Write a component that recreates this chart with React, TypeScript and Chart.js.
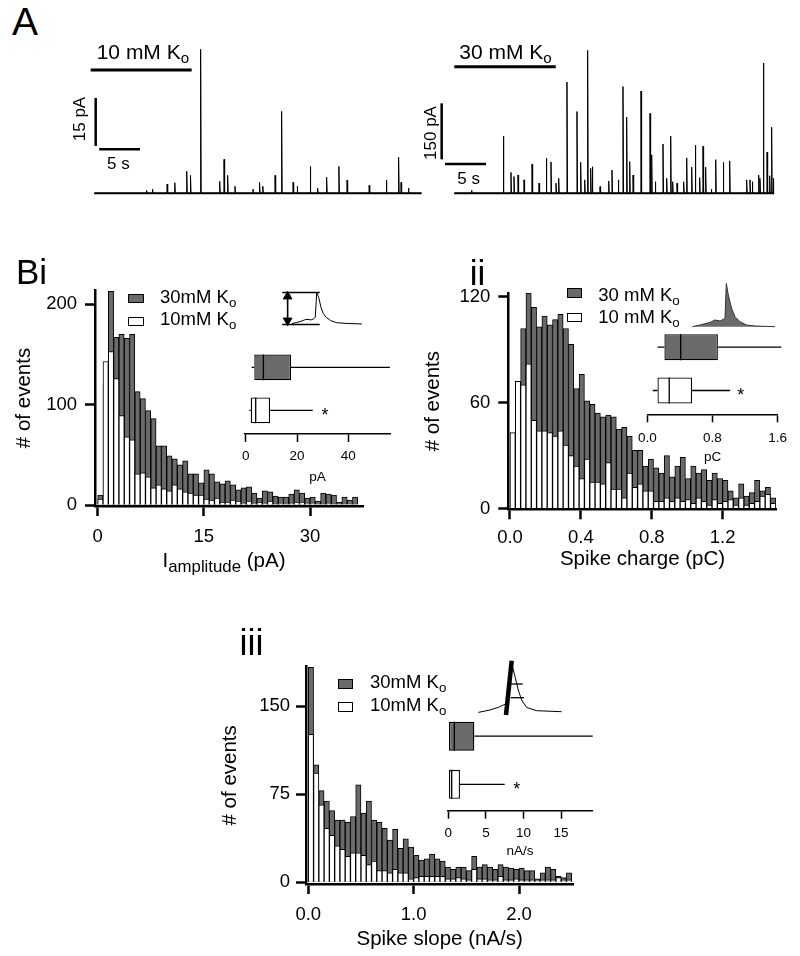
import React, { useEffect, useRef } from 'react';
import { Chart, registerables } from 'chart.js';
Chart.register(...registerables);

const FONT = "'Liberation Sans', Arial, Helvetica, sans-serif";
const GRAY = '#6a6a6a';
Chart.defaults.font.family = FONT;
Chart.defaults.color = '#000';

// ---------------- Panel A: spike trains (time s, amplitude pA) ----------------
const spk10T = [6.39, 7.12, 8.9, 9.84, 11.3, 11.76, 13.0, 15.33, 15.86, 16.3, 17.2, 19.4, 20.2, 20.6, 22.1, 22.9, 24.3, 24.8, 26.4, 27.3, 28.4, 29.9, 30.9, 33.6, 35.7, 37.2, 37.5, 38.4];
const spk10A = [0.9, 1.3, 2.9, 3.3, 6.9, 5.6, 45, 3.75, 10.6, 5.6, 2.2, 1.3, 3.4, 2.2, 5.6, 25.6, 3.4, 2.2, 8.4, 1.6, 5.0, 8.4, 4.1, 2.5, 4.1, 11.25, 3.4, 1.6];
const trace10End = 40.0;
const spk30T = [2.12, 5.98, 6.91, 7.28, 7.77, 8.5, 9.48, 10.33, 11.22, 11.79, 12.4, 12.73, 13.74, 14.96, 15.41, 15.9, 16.26, 16.63, 16.83, 17.77, 18.83, 19.23, 20.0, 20.57, 21.02, 21.39, 21.8, 22.77, 23.87, 24.07, 24.51, 25.45, 25.9, 26.39, 26.63, 27.16, 27.97, 28.34, 28.95, 29.39, 29.92, 30.33, 30.65, 31.34, 31.88, 32.8, 33.58, 35.65, 36.06, 36.34, 37.12, 37.28, 37.69, 38.14, 38.46, 38.7, 38.9];
const spk30A = [8, 153, 56, 45, 49, 36, 78, 27, 94, 84, 27, 40, 298, 219, 83, 36, 383, 67, 71, 18, 33, 62, 36, 286, 204, 85, 49, 274, 214, 103, 31, 132, 40, 153, 31, 27, 31, 95, 70, 129, 42, 126, 70, 11, 90, 83, 87, 36, 36, 31, 49, 40, 349, 110, 47, 177, 40];
const trace30End = 39.0;
// scale bars: vertical (time, start pA, length pA), horizontal (pA level, start s, length s)
const bar10 = { vT: 0.17, vY0: 14.8, vLen: 15, hY: 13.8, hT0: 0.6, hLen: 5 };
const bar30 = { vT: -1.54, vY0: 91, vLen: 150, hY: 78.5, hT0: -1.13, hLen: 5 };
// K+ application bars
const app10 = { y: 38.5, t0: -0.44, t1: 11.9 };
const app30 = { y: 339, t0: 0, t1: 12.37 };

// ---------------- Panel Bi: amplitude histogram (bin 0.75 pA) ----------------
const ampBinWidth = 0.75;
const amp30 = [10, 120, 213, 167, 170, 166, 170, 113, 106, 94, 86, 59, 59, 49, 46, 40, 44, 31, 31, 22, 35, 31, 23, 21, 24, 20, 15, 17, 18, 12, 7, 14, 13, 9, 8, 8, 11, 15, 12, 7, 8, 4, 12, 11, 10, 3, 8, 5, 8];
const amp10 = [6, 143, 153, 126, 89, 68, 65, 31, 32, 28, 17, 20, 16, 14, 20, 16, 13, 12, 10, 10, 6, 5, 7, 3, 3, 5, 4, 2, 4, 2, 3, 2, 4, 1, 2, 0, 2, 3, 3, 2, 2, 0, 1, 2, 1, 0, 1, 0, 1];
const ampXTicks = [0, 15, 30];
const ampYTicks = [0, 100, 200];
// box plots [min, q1, median, q3, max]
const ampBox30 = [2.3, 3.35, 6.9, 17.65, 56.2];
const ampBox10 = [1.4, 1.95, 3.9, 9.5, 26.1];
const ampInsetTicks = [0, 20, 40];
// example event (relative time, amplitude)
const ampWaveT = [0, 5, 10, 15, 19, 21, 24.3, 26, 27.7, 30, 32.3, 35, 38.3, 43.3, 50, 61.7, 78.3];
const ampWaveY = [1.3, 2.5, 4, 6.3, 6.5, 5.7, 7.3, 9, 40.7, 34, 22.3, 14, 9, 5, 2.3, 1.3, 0.7];

// ---------------- Panel ii: charge histogram (bin 0.03 pC) ----------------
const chgBinWidth = 0.03;
const chg30 = [30, 60, 102, 122, 114, 103, 109, 104, 107, 110, 102, 93, 68, 76, 61, 59, 54, 52, 53, 52, 45, 46, 41, 33, 33, 24, 28, 23, 20, 30, 18, 24, 29, 17, 24, 20, 22, 16, 20, 17, 16, 10, 6, 14, 7, 9, 16, 10, 12, 6];
const chg10 = [43, 72, 70, 82, 50, 44, 44, 43, 41, 44, 36, 30, 24, 17, 28, 15, 15, 14, 26, 11, 11, 6, 20, 12, 14, 10, 10, 4, 4, 6, 4, 6, 4, 5, 3, 6, 4, 2, 5, 3, 4, 5, 2, 6, 2, 3, 4, 7, 8, 3];
const chgXTicks = [0, 0.4, 0.8, 1.2];
const chgYTicks = [0, 60, 120];
const chgBox30 = [0.125, 0.21, 0.41, 0.866, 1.644];
const chgBox10 = [0.068, 0.125, 0.269, 0.55, 1.017];
const chgInsetTicks = [0, 0.8, 1.6];
const chgWaveT = [0, 7.7, 17.7, 22.7, 27.7, 31, 32.7, 34, 36, 39.3, 42.7, 47.7, 54.3, 62.7, 82.7];
const chgWaveY = [0, 1.7, 4.3, 6.7, 5.7, 7.3, 9, 43.3, 31.7, 18.3, 10, 5, 1.7, 0.7, 0];

// ---------------- Panel iii: slope histogram (bin 0.05 nA/s) ----------------
const slpBinWidth = 0.05;
const slp30 = [183, 100, 78, 69, 61, 53, 53, 51, 56, 83, 59, 69, 53, 51, 46, 36, 45, 29, 37, 30, 23, 19, 20, 24, 20, 18, 13, 11, 13, 13, 10, 22, 13, 15, 13, 11, 15, 13, 12, 11, 12, 10, 10, 3, 8, 13, 11, 5, 4, 8];
const slp10 = [126, 93, 66, 46, 40, 31, 28, 22, 25, 25, 23, 15, 18, 10, 10, 8, 11, 8, 8, 3, 4, 5, 5, 5, 5, 5, 3, 3, 4, 3, 2, 11, 3, 3, 2, 2, 5, 2, 2, 3, 2, 2, 2, 2, 2, 2, 2, 4, 2, 2];
const slpXTicks = [0, 1, 2];
const slpYTicks = [0, 75, 150];
const slpBox30 = [0, 0.09, 0.8, 3.46, 19.2];
const slpBox10 = [0, 0.09, 0.45, 1.55, 7.5];
const slpInsetTicks = [0, 5, 10, 15];
const slpWaveT = [0, 11.7, 20, 25, 28, 33.4, 36.7, 40, 43.3, 48.3, 58.3, 83.3];
const slpWaveY = [-0.7, 1.7, 4.3, 6.7, 8, 48.4, 35, 21.7, 11.7, 4.3, 1, 0];
const slpFitLine = { t: [27.7, 33.4], y: [-3.3, 51] };
const slpMarks = { y: [27.7, 14], t0: 32.4, t1: [44.4, 45.7] };

// ---------------- helpers ----------------
// value range covered by pixels [a, b] given a reference value at pixel ref and px-per-unit k
const span = (a: number, b: number, ref: number, k: number, v0 = 0) => [v0 + (a - ref) / k, v0 + (b - ref) / k];
const spanY = (top: number, bottom: number, ref: number, k: number, v0 = 0) => [v0 + (ref - bottom) / k, v0 + (ref - top) / k];

const base = (pad: any) => ({
  animation: false,
  responsive: false,
  devicePixelRatio: 1,
  events: [],
  layout: { padding: pad },
  plugins: { legend: { display: false }, tooltip: { enabled: false } },
  elements: { point: { radius: 0 }, line: { tension: 0, borderCapStyle: 'butt' } },
});

const fmt = (v: number, dec: number) => (dec > 0 ? Number(v).toFixed(dec) : String(v));

function traceCfg(T: number[], A: number[], end: number, bar: any, app: any, xr: number[], yr: number[]) {
  const pts: any[] = [{ x: 0, y: 0 }];
  T.forEach((t, i) => pts.push({ x: t - 0.02, y: 0 }, { x: t, y: A[i] }, { x: t + 0.07, y: 0 }));
  pts.push({ x: end, y: 0 });
  const ln = (data: any[], w: number) => ({ data, borderColor: '#000', borderWidth: w, pointRadius: 0 });
  return {
    type: 'line',
    data: {
      datasets: [
        ln([{ x: 0, y: 0 }, { x: end, y: 0 }], 2),
        ln(pts, 1),
        ln([{ x: bar.vT, y: bar.vY0 }, { x: bar.vT, y: bar.vY0 + bar.vLen }], 2.5),
        ln([{ x: bar.hT0, y: bar.hY }, { x: bar.hT0 + bar.hLen, y: bar.hY }], 2.5),
        ln([{ x: app.t0, y: app.y }, { x: app.t1, y: app.y }], 3),
      ],
    },
    options: {
      ...base(0),
      scales: {
        x: { type: 'linear', display: false, min: xr[0], max: xr[1] },
        y: { type: 'linear', display: false, min: yr[0], max: yr[1] },
      },
    },
  };
}

function histCfg(h: any) {
  const centers = h.gray.map((_: any, i: number) => h.bw * (i + 0.5));
  return {
    type: 'bar',
    data: {
      datasets: [
        { label: '30mM', data: centers.map((x: number, i: number) => ({ x, y: h.gray[i] })), backgroundColor: GRAY, borderColor: '#000', borderWidth: 1, order: 2 },
        { label: '10mM', data: centers.map((x: number, i: number) => ({ x, y: h.white[i] })), backgroundColor: '#fff', borderColor: '#000', borderWidth: 1, order: 1 },
      ],
    },
    options: {
      ...base(h.pad),
      datasets: { bar: { grouped: false, barPercentage: 1, categoryPercentage: 1 } },
      scales: {
        x: {
          type: 'linear', offset: false, min: h.xr[0], max: h.xr[1],
          afterBuildTicks: (s: any) => { s.ticks = h.xTicks.map((v: number) => ({ value: v })); },
          afterFit: (s: any) => { s.height = h.xH; },
          grid: { offset: false, drawOnChartArea: false, drawTicks: true, tickLength: 10, tickWidth: 2.5, tickColor: '#000' },
          border: { display: true, width: 2.5, color: '#000' },
          ticks: { color: '#000', font: { family: FONT, size: 18.5 }, padding: h.xPad, maxRotation: 0, autoSkip: false, callback: (v: number) => fmt(v, h.xDec) },
          title: h.xTitle ? { display: true, text: h.xTitle, color: '#000', font: { family: FONT, size: 20.5 }, padding: { top: 4, bottom: 4 } } : { display: false },
        },
        y: {
          type: 'linear', min: h.yr[0], max: h.yr[1],
          afterBuildTicks: (s: any) => { s.ticks = h.yTicks.map((v: number) => ({ value: v })); },
          afterFit: (s: any) => { s.width = h.yW; },
          grid: { drawOnChartArea: false, drawTicks: true, tickLength: 10, tickWidth: 2.5, tickColor: '#000' },
          border: { display: true, width: 2.5, color: '#000' },
          ticks: { color: '#000', font: { family: FONT, size: 18.5 }, padding: h.yPad, autoSkip: false, callback: (v: number) => String(v) },
          title: { display: true, text: '# of events', color: '#000', font: { family: FONT, size: 20.5 }, padding: { top: 4, bottom: 4 } },
        },
      },
    },
  };
}

function boxCfg(b: any) {
  const rows = [2, 1];
  const stats = [b.s30, b.s10];
  const seg: any[] = [];
  stats.forEach((s: number[], i: number) => {
    const r = rows[i];
    seg.push({ x: s[0], y: r }, { x: s[1], y: r }, { x: s[1], y: null });
    seg.push({ x: s[3], y: r }, { x: s[4], y: r }, { x: s[4], y: null });
    seg.push({ x: s[2], y: r - 0.3 }, { x: s[2], y: r + 0.3 }, { x: s[2], y: null });
  });
  return {
    type: 'bar',
    data: {
      datasets: [
        { type: 'bar', indexAxis: 'y', data: stats.map((s: number[], i: number) => ({ x: [s[1], s[3]], y: rows[i] })), backgroundColor: [GRAY, '#fff'], borderColor: '#000', borderWidth: 1.3, borderSkipped: false, barPercentage: 0.6, categoryPercentage: 1, order: 2 },
        { type: 'line', indexAxis: 'x', data: seg, borderColor: '#000', borderWidth: 1.3, pointRadius: 0, spanGaps: false, clip: false, order: 1 },
      ],
    },
    options: {
      ...base(b.pad),
      scales: {
        x: {
          type: 'linear', offset: false, beginAtZero: false, min: b.xr[0], max: b.xr[1],
          afterBuildTicks: (s: any) => { s.ticks = b.ticks.map((v: number) => ({ value: v })); },
          afterFit: (s: any) => { s.height = b.xH; },
          grid: { offset: false, drawOnChartArea: false, drawTicks: true, tickLength: 8, tickWidth: 1.5, tickColor: '#000' },
          border: { display: true, width: 1.5, color: '#000' },
          ticks: { color: '#000', font: { family: FONT, size: 13.5 }, padding: b.tPad, maxRotation: 0, autoSkip: false, callback: (v: number) => fmt(v, b.dec) },
          title: { display: true, text: b.unit, color: '#000', font: { family: FONT, size: 13.5 }, padding: { top: 4, bottom: 4 } },
        },
        y: {
          type: 'linear', display: false, offset: false, beginAtZero: false, grace: 0, min: b.yr[0], max: b.yr[1],
          grid: { offset: false },
          afterBuildTicks: (s: any) => { s.ticks = rows.map((v) => ({ value: v })); },
        },
      },
    },
  };
}

function waveCfg(datasets: any[], xr: number[], yr: number[]) {
  return {
    type: 'line',
    data: { datasets },
    options: {
      ...base(0),
      scales: {
        x: { type: 'linear', display: false, min: xr[0], max: xr[1] },
        y: { type: 'linear', display: false, min: yr[0], max: yr[1] },
      },
    },
  };
}
const pts = (T: number[], Y: number[]) => T.map((t, i) => ({ x: t, y: Y[i] }));
const line = (data: any[], w: number, extra: any = {}) => ({ data, borderColor: '#000', borderWidth: w, pointRadius: 0, ...extra });

function ampWaveCfg() {
  const peak = Math.max(...ampWaveY);
  const tPeak = ampWaveT[ampWaveY.indexOf(peak)];
  const x0 = -11, x1 = tPeak + 3.3, ax = -5, r = 5;
  return waveCfg([
    line(pts(ampWaveT, ampWaveY), 1),
    line([{ x: x0, y: peak }, { x: x1, y: peak }], 1.6),
    line([{ x: x0, y: 0 }, { x: x1, y: 0 }], 1.6),
    line([{ x: ax, y: 1 }, { x: ax, y: peak - 1 }], 1.6),
    { data: [{ x: ax, y: r }, { x: ax, y: peak - r }], showLine: false, pointStyle: 'triangle', pointRadius: r, rotation: [180, 0], pointBackgroundColor: '#000', pointBorderColor: '#000', pointBorderWidth: 1 },
  ], span(268, 378, 288.3, 1), spanY(280, 336, 329, 1));
}
function chgWaveCfg() {
  return waveCfg([
    line(pts(chgWaveT, chgWaveY), 1, { borderColor: '#333', fill: 'origin', backgroundColor: GRAY }),
  ], span(683, 783, 692.3, 1), spanY(275, 331, 326.7, 1));
}
function slpWaveCfg() {
  return waveCfg([
    line(pts(slpWaveT, slpWaveY), 1),
    line(pts(slpFitLine.t, slpFitLine.y), 4.5),
    line([{ x: slpMarks.t0, y: slpMarks.y[0] }, { x: slpMarks.t1[0], y: slpMarks.y[0] }], 1.3),
    line([{ x: slpMarks.t0, y: slpMarks.y[1] }, { x: slpMarks.t1[1], y: slpMarks.y[1] }], 1.3),
  ], span(470, 570, 478.3, 1), spanY(648, 720, 711.7, 1));
}

// ---------------- components ----------------
function ChartCanvas({ x, y, w, h, make }: any) {
  const ref = useRef<HTMLCanvasElement>(null);
  useEffect(() => {
    const chart = new Chart(ref.current as HTMLCanvasElement, make());
    return () => chart.destroy();
  }, []);
  return <canvas ref={ref} width={w} height={h} style={{ position: 'absolute', left: x, top: y, width: w, height: h }} />;
}

const Txt = ({ x, y, size, children, align = 'center', rotate = 0 }: any) => {
  const tx = align === 'left' ? '0%' : '-50%';
  return (
    <div style={{ position: 'absolute', left: x, top: y, fontFamily: FONT, fontSize: size, lineHeight: 1, whiteSpace: 'nowrap', color: '#000', transform: `translate(${tx}, -50%) rotate(${rotate}deg)` }}>
      {children}
    </div>
  );
};
const Sub = ({ children, s = 0.72 }: any) => <span style={{ fontSize: `${s}em`, position: 'relative', top: '0.3em' }}>{children}</span>;
const Sw = ({ x, y, w, h, fill }: any) => (
  <div style={{ position: 'absolute', left: x, top: y, width: w, height: h, background: fill, border: '1px solid #000', boxSizing: 'border-box' }} />
);

export default function App() {
  return (
    <div style={{ position: 'absolute', left: 0, top: 0, width: 800, height: 956, background: '#fff', overflow: 'hidden', fontFamily: FONT }}>
      {/* Panel A traces */}
      <ChartCanvas x={60} y={30} w={378} h={180} make={() => traceCfg(spk10T, spk10A, trace10End, bar10, app10, span(60, 438, 94.3, 8.18), spanY(30, 210, 193.3, 3.2))} />
      <ChartCanvas x={438} y={30} w={350} h={180} make={() => traceCfg(spk30T, spk30A, trace30End, bar30, app30, span(438, 788, 454.3, 8.2), spanY(30, 210, 193.3, 0.3733))} />

      {/* Histograms */}
      <ChartCanvas x={0} y={262} w={380} h={314} make={() => histCfg({
        gray: amp30, white: amp10, bw: ampBinWidth, xTicks: ampXTicks, yTicks: ampYTicks, xDec: 0,
        xr: span(95, 363, 97.7, 7.077), yr: spanY(290, 506, 505, 1.0035),
        pad: { left: 7.7, top: 28, right: 17, bottom: 0 }, yW: 87.3, xH: 70, xPad: 9.6, yPad: 8,
      })} />
      <ChartCanvas x={410} y={265} w={380} h={311} make={() => histCfg({
        gray: chg30, white: chg10, bw: chgBinWidth, xTicks: chgXTicks, yTicks: chgYTicks, xDec: 1,
        xr: span(508.3, 776.7, 510, 177.2), yr: spanY(293, 509.3, 508.5, 1.765),
        pad: { left: 6.7, top: 28, right: 13.3, bottom: 0 }, yW: 91.6, xH: 66.7, xPad: 7.9, yPad: 8,
        xTitle: 'Spike charge (pC)',
      })} />
      <ChartCanvas x={200} y={640} w={400} h={316} make={() => histCfg({
        gray: slp30, white: slp10, bw: slpBinWidth, xTicks: slpXTicks, yTicks: slpYTicks, xDec: 1,
        xr: span(306, 573.3, 308.3, 105.35), yr: spanY(666.7, 884, 882.3, 1.1753),
        pad: { left: 13.7, top: 26.7, right: 26.7, bottom: 0 }, yW: 92.3, xH: 72, xPad: 9.9, yPad: 6,
        xTitle: 'Spike slope (nA/s)',
      })} />

      {/* Box-plot insets */}
      <ChartCanvas x={235} y={330} w={165} h={159} make={() => boxCfg({
        s30: ampBox30, s10: ampBox10, ticks: ampInsetTicks, dec: 0, unit: 'pA',
        xr: span(245, 390, 245.7, 2.566), yr: spanY(340, 434, 410.3, 43, 1),
        pad: { left: 10, top: 10, right: 10, bottom: 0 }, xH: 55, tPad: 6,
      })} />
      <ChartCanvas x={630} y={312} w={165} h={157} make={() => boxCfg({
        s30: chgBox30, s10: chgBox10, ticks: chgInsetTicks, dec: 1, unit: 'pC',
        xr: span(640.7, 781.2, 640.7, 87.8), yr: spanY(322, 414.3, 390.5, 43.3, 1),
        pad: { left: 10.7, top: 10, right: 13.8, bottom: 0 }, xH: 54.7, tPad: 7.9,
      })} />
      <ChartCanvas x={437} y={702} w={163} h={161} make={() => boxCfg({
        s30: slpBox30, s10: slpBox10, ticks: slpInsetTicks, dec: 0, unit: 'nA/s',
        xr: span(447.3, 592.7, 448.3, 7.52), yr: spanY(712, 810.7, 784.3, 48.1, 1),
        pad: { left: 10.3, top: 10, right: 7.3, bottom: 0 }, xH: 52.3, tPad: 6.5,
      })} />

      {/* Example-event insets */}
      <ChartCanvas x={268} y={280} w={110} h={56} make={ampWaveCfg} />
      <ChartCanvas x={683} y={275} w={100} h={56} make={chgWaveCfg} />
      <ChartCanvas x={470} y={648} w={100} h={72} make={slpWaveCfg} />

      {/* Panel A labels */}
      <Txt x={25} y={21} size={39}>A</Txt>
      <Txt x={96.7} y={50.8} size={21} align="left">10 mM K<Sub>o</Sub></Txt>
      <Txt x={459.3} y={50.5} size={21} align="left">30 mM K<Sub>o</Sub></Txt>
      <Txt x={79} y={119} size={17} rotate={-90}>15 pA</Txt>
      <Txt x={118.3} y={162.5} size={17}>5 s</Txt>
      <Txt x={430} y={133.3} size={17} rotate={-90}>150 pA</Txt>
      <Txt x={468.7} y={177.5} size={17}>5 s</Txt>

      {/* Panel B labels */}
      <Txt x={31.5} y={271} size={35}>Bi</Txt>
      <Txt x={477.5} y={272} size={35}>ii</Txt>
      <Txt x={251.5} y={642.5} size={36}>iii</Txt>
      <Txt x={224} y={560} size={20.5}>I<Sub s={0.82}>amplitude</Sub> (pA)</Txt>

      {/* Legends */}
      <Sw x={128} y={293.8} w={15.6} h={9} fill={GRAY} />
      <Sw x={128} y={316.5} w={15.6} h={9} fill="#fff" />
      <Txt x={160} y={296.7} size={18.5} align="left">30mM K<Sub>o</Sub></Txt>
      <Txt x={160} y={319.3} size={18.5} align="left">10mM K<Sub>o</Sub></Txt>

      <Sw x={566.7} y={288.3} w={15.6} h={9.4} fill={GRAY} />
      <Sw x={566.7} y={312.5} w={15.6} h={9.4} fill="#fff" />
      <Txt x={598.3} y={295} size={18.5} align="left">30 mM K<Sub>o</Sub></Txt>
      <Txt x={598.3} y={317} size={18.5} align="left">10 mM K<Sub>o</Sub></Txt>

      <Sw x={337.7} y={679} w={15.6} h={9.6} fill={GRAY} />
      <Sw x={337.7} y={701.8} w={15.6} h={9.8} fill="#fff" />
      <Txt x={370} y={681.7} size={18.5} align="left">30mM K<Sub>o</Sub></Txt>
      <Txt x={370} y={705} size={18.5} align="left">10mM K<Sub>o</Sub></Txt>

      {/* significance stars */}
      <Txt x={325} y={415} size={18}>*</Txt>
      <Txt x={740.7} y={395} size={18}>*</Txt>
      <Txt x={516.7} y={789} size={18}>*</Txt>
    </div>
  );
}
